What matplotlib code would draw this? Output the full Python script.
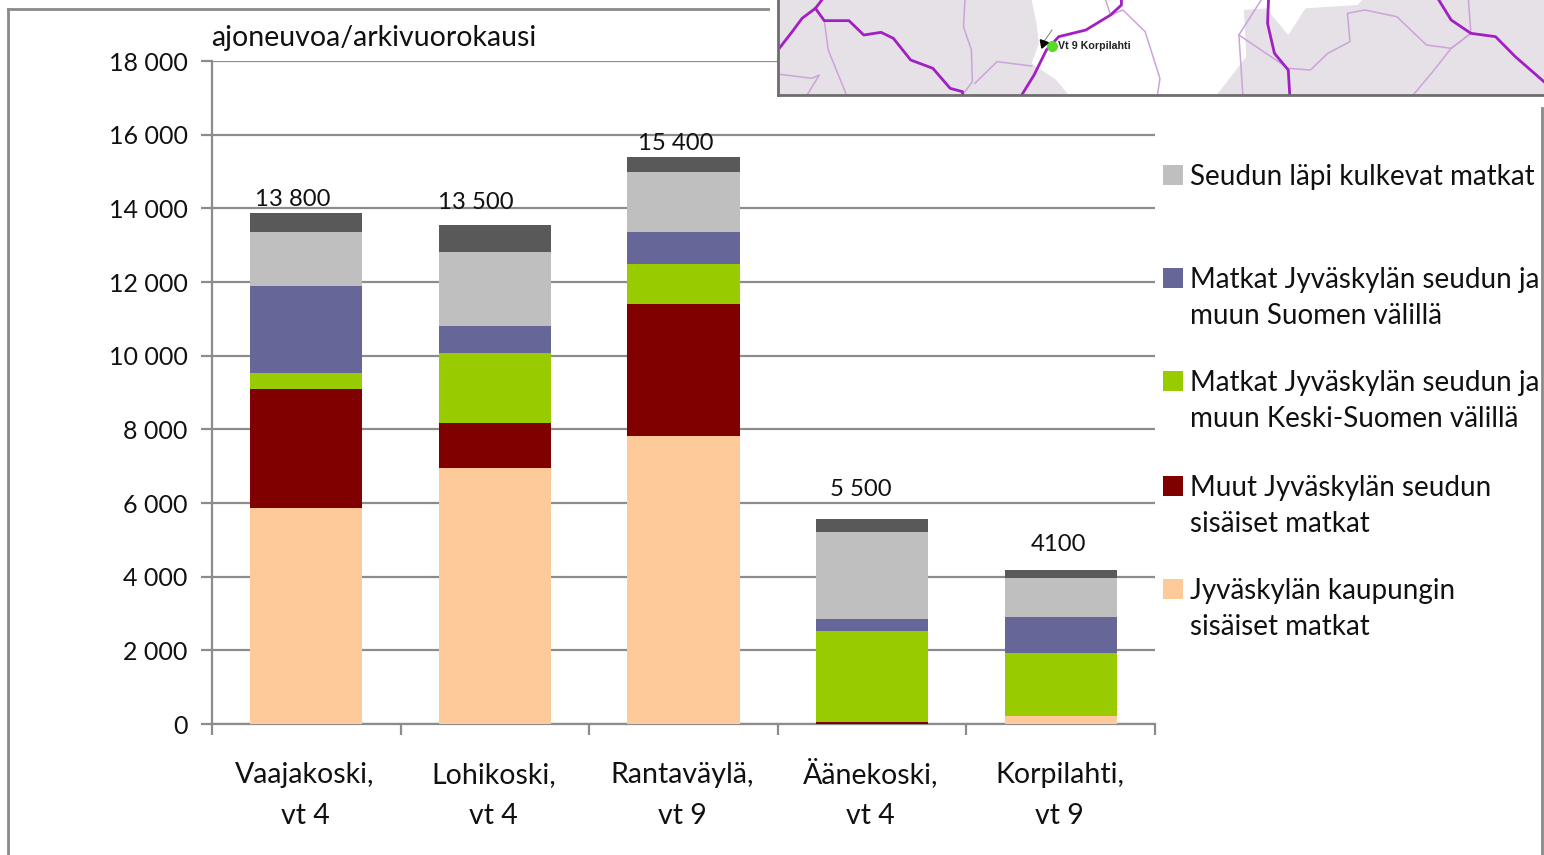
import matplotlib
matplotlib.use("Agg")
import matplotlib.pyplot as plt
from matplotlib.patches import Rectangle, Polygon
from matplotlib.lines import Line2D

plt.rcParams['font.family'] = ['Lato', 'DejaVu Sans']

W, H = 1544, 855
categories = ["Vaajakoski,\nvt 4", "Lohikoski,\nvt 4", "Rantaväylä,\nvt 9", "Äänekoski,\nvt 4", "Korpilahti,\nvt 9"]
jkl_city = [5865, 6950, 7820, 0, 220]
region_internal = [3230, 1220, 3580, 60, 0]
central_finland = [435, 1900, 1090, 2465, 1710]
rest_finland = [2360, 730, 870, 325, 975]
through = [1470, 2015, 1625, 2365, 1060]
unnamed_top = [515, 730, 410, 350, 215]
totals = ["13 800", "13 500", "15 400", "5 500", "4100"]
total_heights = [13945, 13870, 15465, 6090, 4580]
total_x_offsets = [-0.07, -0.10, -0.04, -0.06, -0.01]
series = [jkl_city, region_internal, central_finland, rest_finland, through, unnamed_top]
colors = ["#FFCA99", "#800000", "#99CC00", "#666699", "#BFBFBF", "#595959"]
legend_labels = ["Seudun läpi kulkevat matkat",
                 "Matkat Jyväskylän seudun ja\nmuun Suomen välillä",
                 "Matkat Jyväskylän seudun ja\nmuun Keski-Suomen välillä",
                 "Muut Jyväskylän seudun\nsisäiset matkat",
                 "Jyväskylän kaupungin\nsisäiset matkat"]
legend_colors = ["#BFBFBF", "#666699", "#99CC00", "#800000", "#FFCA99"]
legend_rows = [175, 278, 381, 486, 589]
yticks = list(range(0, 18001, 2000))
ytick_labels = ["0", "2 000", "4 000", "6 000", "8 000", "10 000", "12 000", "14 000", "16 000", "18 000"]

white_area = [(530,0),(540,70),(545,130),(530,190),(580,240),(605,285),(905,285),(965,170),(960,30),
              (1005,25),(1050,105),(1085,25),(1190,15),(1200,0)]
major_roads = [
    [(15,152),(45,95),(65,55),(92,25),(105,0)],
    [(92,25),(110,62),(160,62),(190,105),(225,97),(250,115),(285,180),(330,205),(365,265),(390,275),(390,285)],
    [(510,285),(535,225),(560,150),(585,110),(640,90),(690,45),(712,15),(712,0)],
    [(1010,0),(1008,70),(1022,160),(1050,210),(1053,285)],
    [(1355,0),(1380,60),(1420,100),(1470,110),(1510,170),(1568,245)],
]
minor_roads = [
    [(110,62),(118,150),(155,285)],
    [(395,0),(392,80),(408,150),(410,245),(390,285)],
    [(415,250),(460,185),(530,198)],
    [(15,222),(85,235),(100,225),(75,285)],
    [(680,0),(690,45),(715,30),(760,95),(790,235),(785,285)],
    [(995,0),(950,105),(958,285)],
    [(950,105),(1050,205),(1095,210),(1130,160),(1175,125),(1170,40),(1205,30),(1270,50),(1330,135),(1380,145),(1420,100)],
    [(1415,0),(1420,100),(1380,145),(1340,220),(1303,285)],
]

fig = plt.figure(figsize=(W/100, H/100), dpi=100)
fig.patch.set_facecolor("white")

def fig_box(x0, y0, x1, y1):
    return [x0/W, 1-y1/H, (x1-x0)/W, (y1-y0)/H]

GRID = "#8C8C8C"
TXT = "#111111"

# outer frame
for xs, ys in [((8, 8), (855, 9)), ((8, 768), (9, 9)), ((1542, 1542), (108, 855))]:
    fig.add_artist(Line2D([x/W for x in xs], [1-y/H for y in ys], color="#8A8A8A", lw=2))

ax = fig.add_axes(fig_box(212, 61, 1155, 724))
x = range(len(categories))
bottom = [0]*len(categories)
for vals, c in zip(series, colors):
    ax.bar(x, vals, width=0.595, bottom=bottom, color=c, linewidth=0, zorder=3)
    bottom = [b+v for b, v in zip(bottom, vals)]
for i, (lab, h, dx) in enumerate(zip(totals, total_heights, total_x_offsets)):
    ax.text(i+dx, h, lab, ha="center", va="bottom", fontsize=17.2, color=TXT, zorder=4)

ax.set_xlim(-0.5, 4.5)
ax.set_ylim(0, 18000)
ax.set_yticks(yticks, ytick_labels, fontsize=18, color=TXT)
ax.set_xticks([i-0.5 for i in range(6)], [""]*6)
ax.set_axisbelow(True)
ax.yaxis.grid(True, color=GRID, lw=1.6)
ax.tick_params(axis="y", length=8, width=1.6, color=GRID, pad=9.5)
ax.tick_params(axis="x", length=8, width=1.6, color=GRID)
for s in ["top", "right"]:
    ax.spines[s].set_visible(False)
for s in ["left", "bottom"]:
    ax.spines[s].set_color(GRID)
    ax.spines[s].set_linewidth(1.6)
for i, lab in enumerate(categories):
    a, b = lab.split("\n")
    px = 305 + i*188.6
    fig.text(px/W, 1-783/H, a, ha="center", va="baseline", fontsize=20.5, color=TXT)
    fig.text(px/W, 1-824/H, b, ha="center", va="baseline", fontsize=20.5, color=TXT)

fig.text(211/W, 1-46/H, "ajoneuvoa/arkivuorokausi", ha="left", va="baseline", fontsize=20.5, color=TXT)

# legend
for lab, c, y in zip(legend_labels, legend_colors, legend_rows):
    fig.add_artist(Rectangle((1163/W, 1-(y+10)/H), 20/W, 20/H, transform=fig.transFigure, color=c, lw=0))
    for j, line in enumerate(lab.split("\n")):
        fig.text(1190/W, 1-(y+10+j*36)/H, line, ha="left", va="baseline", fontsize=20.0, color=TXT)

# map
m = fig.add_axes(fig_box(778, 0, 1544, 95))
m.set_xlim(778, 1544)
m.set_ylim(95, 0)
conv = lambda pts: [(770+p/2.026, q/3) for p, q in pts]
m.set_facecolor("#E5E1E7")
m.add_patch(Polygon(conv(white_area), closed=True, fc="white", ec="none"))
for r in minor_roads:
    xs, ys = zip(*conv(r))
    m.plot(xs, ys, color="#CDA3DC", lw=1.1)
for r in major_roads:
    xs, ys = zip(*conv(r))
    m.plot(xs, ys, color="#A21FC4", lw=2.0)
m.plot([1052], [46], "o", color="#55DD22", ms=7, zorder=5)
m.plot([1043], [43], marker=(3, 0, 40), color="black", ms=7, zorder=5)
m.plot([1043, 1052], [43, 30], color="#557755", lw=0.6, zorder=4)
m.text(1058, 46, "Vt 9 Korpilahti", fontsize=7.7, fontweight="bold", va="center", ha="left",
       family=["Liberation Sans"], color="#222222")
m.set_xticks([]); m.set_yticks([])
for s in m.spines.values():
    s.set_visible(False)
m.spines["left"].set_visible(True); m.spines["bottom"].set_visible(True)
m.spines["left"].set_color("#6E6E6E"); m.spines["bottom"].set_color("#6E6E6E")
m.spines["left"].set_linewidth(2); m.spines["bottom"].set_linewidth(2)

fig.savefig("out.png", dpi=100)
